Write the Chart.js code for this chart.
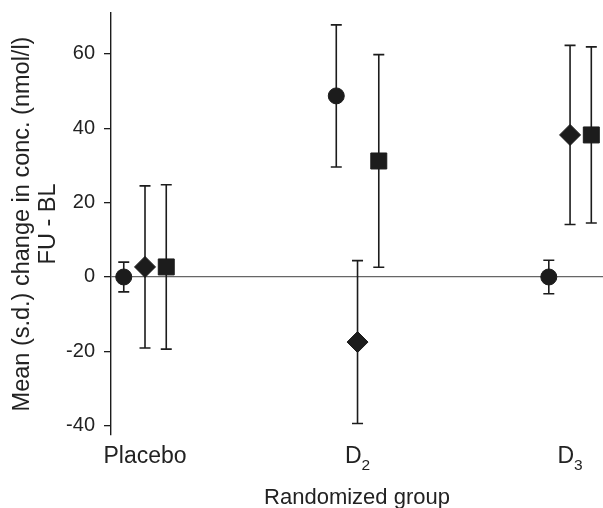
<!DOCTYPE html>
<html>
<head>
<meta charset="utf-8">
<script src="https://cdn.jsdelivr.net/npm/chart.js@4.4.0/dist/chart.umd.min.js"></script>
<style>
  html, body { margin: 0; background: #fff; overflow: hidden; }
  #wrap { width: 603px; height: 508px; }
  canvas { display: block; }
</style>
</head>
<body>
<div id="wrap"><canvas id="chart"></canvas></div>
<script>
// randomized groups and y ticks
const groups = ['Placebo', 'D\u2082', 'D\u2083'];
const yTicks = [-40, -20, 0, 20, 40, 60];

// mean and s.d. for each marker series (FU - BL, nmol/l)
const circleMean = [0, 48.7, 0];
const circleSd = [4.0, 19.1, 4.5];
const diamondMean = [2.7, -17.5, 38.2];
const diamondSd = [21.8, 21.9, 24.1];
const squareMean = [2.7, 31.2, 38.2];
const squareSd = [22.1, 28.6, 23.7];

const ink = '#1c1c1c';
const family = "'Liberation Sans', Arial, sans-serif";
Chart.defaults.font.family = family;
Chart.defaults.color = '#222';

function series(means, sds, shift, style, radius) {
    return {
        data: means.map((m, i) => ({ x: i + shift, y: m, sd: sds[i] })),
        pointStyle: style,
        pointRadius: radius,
        pointHoverRadius: radius,
        backgroundColor: ink,
        borderColor: ink,
        borderWidth: 1,
        showLine: false
    };
}

// error bars drawn under the markers
const errorBars = {
    id: 'errorBars',
    beforeDatasetsDraw(chart) {
        const { ctx, scales: { x, y } } = chart;
        ctx.save();
        ctx.strokeStyle = ink;
        ctx.lineWidth = 1.6;
        chart.data.datasets.forEach(ds => {
            ds.data.forEach(p => {
                const px = x.getPixelForValue(p.x);
                const top = y.getPixelForValue(p.y + p.sd);
                const bot = y.getPixelForValue(p.y - p.sd);
                ctx.beginPath();
                ctx.moveTo(px, top);
                ctx.lineTo(px, bot);
                ctx.moveTo(px - 5.5, top);
                ctx.lineTo(px + 5.5, top);
                ctx.moveTo(px - 5.5, bot);
                ctx.lineTo(px + 5.5, bot);
                ctx.stroke();
            });
        });
        ctx.restore();
    }
};

// group labels with a real lowered subscript (D2, D3)
const groupLabels = {
    id: 'groupLabels',
    afterDraw(chart) {
        const { ctx, scales: { x } } = chart;
        const baseY = x.top + 28;
        ctx.save();
        ctx.fillStyle = '#222';
        ctx.textBaseline = 'alphabetic';
        ctx.textAlign = 'left';
        groups.forEach((g, i) => {
            const m = g.match(/^(.*?)([\u2080-\u2089]*)$/);
            const main = m[1];
            const sub = [...m[2]].map(c => String.fromCharCode(c.charCodeAt(0) - 0x2080 + 48)).join('');
            ctx.font = '23px ' + family;
            const w1 = ctx.measureText(main).width;
            ctx.font = '15.5px ' + family;
            const w2 = sub ? ctx.measureText(sub).width : 0;
            const left = x.getPixelForValue(i) - (w1 + w2) / 2;
            ctx.font = '23px ' + family;
            ctx.fillText(main, left, baseY);
            if (sub) {
                ctx.font = '15.5px ' + family;
                ctx.fillText(sub, left + w1, baseY + 7);
            }
        });
        ctx.restore();
    }
};

new Chart(document.getElementById('chart'), {
    type: 'scatter',
    data: {
        datasets: [
            series(circleMean, circleSd, -0.1, 'circle', 8),
            series(diamondMean, diamondSd, 0, 'rectRot', 10.5),
            series(squareMean, squareSd, 0.1, 'rect', 11.3)
        ]
    },
    options: {
        responsive: true,
        maintainAspectRatio: false,
        animation: false,
        layout: { autoPadding: false, padding: { top: 13, right: 0, bottom: 0, left: 0 } },
        plugins: { legend: { display: false }, tooltip: { enabled: false } },
        scales: {
            x: {
                type: 'linear',
                min: -0.16,
                max: 2.155,
                afterBuildTicks: s => { s.ticks = groups.map((g, i) => ({ value: i })); },
                afterFit: s => { s.height = 73; s.paddingLeft = 0; s.paddingRight = 0; },
                ticks: {
                    callback: v => groups[v],
                    color: 'rgba(0,0,0,0)', // drawn by groupLabels for the subscripts
                    font: { size: 23 },
                    padding: 9,
                    maxRotation: 0,
                    autoSkip: false
                },
                grid: { display: false, drawTicks: false },
                border: { display: false },
                title: {
                    display: true,
                    text: 'Randomized group',
                    font: { size: 22, lineHeight: 0.9 },
                    padding: { top: 0, bottom: 0 }
                }
            },
            y: {
                min: -42.5,
                max: 71,
                afterBuildTicks: s => { s.ticks = yTicks.map(v => ({ value: v })); },
                afterFit: s => { s.width = 111; s.paddingTop = 0; s.paddingBottom = 0; },
                ticks: { font: { size: 20 }, padding: 9 },
                border: { display: true, color: ink, width: 1.4 },
                grid: {
                    color: c => (c.tick && c.tick.value === 0 ? '#666' : 'rgba(0,0,0,0)'),
                    tickColor: ink,
                    tickLength: 7,
                    lineWidth: 1.3
                },
                title: {
                    display: true,
                    text: ['Mean (s.d.) change in conc. (nmol/l)', 'FU - BL'],
                    font: { size: 23.5, lineHeight: 1.1 },
                    padding: { top: 10, bottom: 0 }
                }
            }
        }
    },
    plugins: [errorBars, groupLabels]
});
</script>
</body>
</html>
